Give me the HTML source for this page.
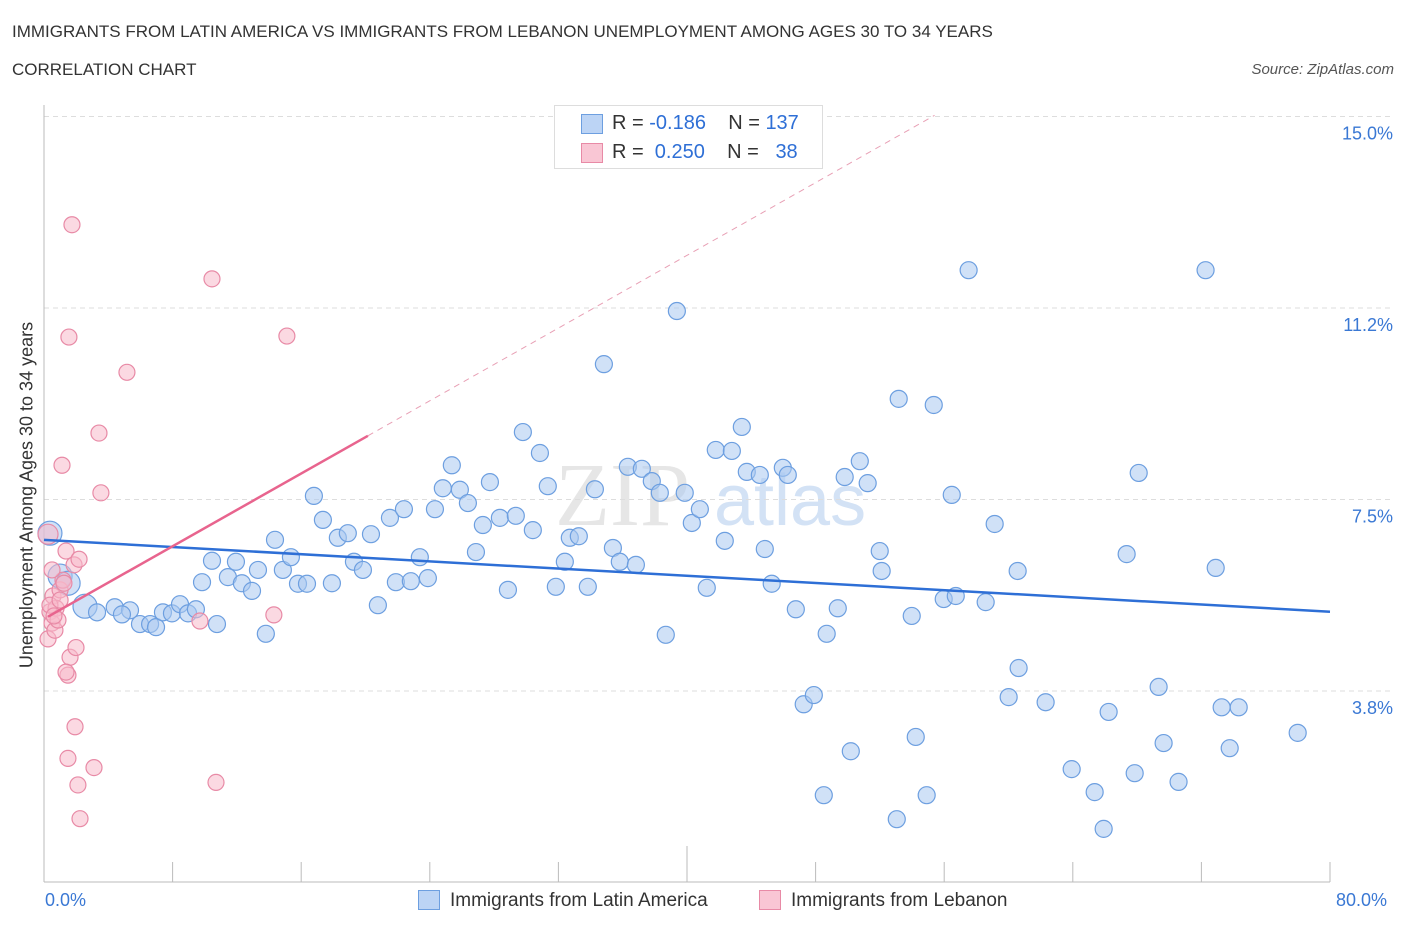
<!DOCTYPE html>
<html><head><meta charset="utf-8"><style>
body{margin:0;background:#fff;font-family:"Liberation Sans",sans-serif;}
#wrap{position:relative;width:1406px;height:930px;overflow:hidden}
.t{position:absolute;white-space:nowrap}
</style></head><body>
<div id="wrap">
<div class="t" style="left:12px;top:22px;font-size:17px;color:#333">IMMIGRANTS FROM LATIN AMERICA VS IMMIGRANTS FROM LEBANON UNEMPLOYMENT AMONG AGES 30 TO 34 YEARS</div>
<div class="t" style="left:12px;top:60px;font-size:17px;color:#333">CORRELATION CHART</div>
<div class="t" style="right:12px;top:61px;font-size:15px;color:#555;font-style:italic">Source: ZipAtlas.com</div>
<svg id="svg" width="1406" height="930" style="position:absolute;left:0;top:0"></svg>
</div>
<script>
const blueX=[0.37,1.0,1.5,2.55,3.3,4.4,5.35,4.85,5.97,6.6,6.97,7.4,7.96,8.46,8.96,9.45,9.83,10.45,10.76,11.44,11.94,12.31,12.94,13.31,13.8,14.37,14.86,15.36,15.8,16.36,16.79,17.35,17.91,18.28,18.9,19.28,19.84,20.34,20.77,21.52,21.89,22.39,22.82,23.38,23.88,24.32,24.81,25.37,25.87,26.37,26.87,27.3,27.74,28.36,28.86,29.35,29.79,30.41,30.85,31.34,31.84,32.4,32.71,33.27,33.83,34.27,34.83,35.39,35.82,36.32,36.82,37.19,37.81,38.31,38.68,39.37,39.86,40.3,40.8,41.23,41.79,42.35,42.79,43.41,43.72,44.53,44.84,45.27,45.96,46.27,46.77,47.26,47.89,48.51,48.69,49.38,50.19,49.81,50.75,51.24,51.99,52.11,53.05,53.17,53.98,54.23,54.91,55.35,55.97,56.47,56.72,57.52,58.58,59.14,60.01,60.57,60.63,62.31,63.93,65.36,65.92,66.23,67.35,67.85,68.1,69.34,69.65,70.58,72.26,72.89,73.26,73.76,74.32,77.99];
const blueY=[6.84,6.0,5.86,5.41,5.29,5.39,5.33,5.25,5.06,5.06,5.0,5.29,5.27,5.45,5.27,5.35,5.88,6.3,5.06,5.98,6.28,5.86,5.71,6.12,4.87,6.71,6.12,6.37,5.85,5.85,7.57,7.1,5.86,6.75,6.84,6.28,6.12,6.82,5.43,7.14,5.88,7.31,5.9,6.37,5.96,7.31,7.72,8.17,7.69,7.43,6.47,7.0,7.84,7.14,5.73,7.18,8.82,6.9,8.41,7.76,5.79,6.28,6.75,6.78,5.79,7.7,10.15,6.55,6.28,8.14,6.22,8.1,7.86,7.63,4.85,11.19,7.63,7.04,7.31,5.77,8.47,6.69,8.45,8.92,8.04,7.98,6.53,5.85,8.12,7.98,5.35,3.49,3.67,1.71,4.87,5.37,2.57,7.94,8.25,7.82,6.49,6.1,1.24,9.47,5.22,2.85,1.71,9.35,5.55,7.59,5.61,11.99,5.49,7.02,3.63,6.1,4.2,3.53,2.22,1.77,1.05,3.34,6.43,2.14,8.02,3.83,2.73,1.97,11.99,6.16,3.43,2.63,3.43,2.93];
const pinkX=[0.25,0.37,0.25,0.5,0.56,0.68,0.75,0.87,1.0,1.12,1.18,1.37,1.49,1.55,1.62,1.74,1.87,1.93,1.99,2.11,2.18,2.24,3.11,3.42,3.54,5.16,9.7,10.45,10.7,14.3,15.11,1.49,1.37,0.37,0.62,1.0,1.24,0.5];
const pinkY=[6.82,5.3,4.77,5.08,5.61,4.94,5.37,5.14,5.73,8.17,5.92,6.49,4.06,10.68,4.41,12.88,6.22,3.05,4.6,1.91,6.33,1.25,2.25,8.8,7.63,9.99,5.12,11.82,1.96,5.24,10.7,2.43,4.12,5.43,5.22,5.53,5.86,6.12];
const bigBlue=[0,1,2,3];
const blueFit=[6.71,-0.0176];
const pinkFit=[5.16,0.178];
const yTicks=[3.75,7.5,11.25,15];
const yTickLabels=["3.8%","7.5%","11.2%","15.0%"];
const ns="http://www.w3.org/2000/svg";
const svg=document.getElementById('svg');
const X=v=>44+v*16.075, Y=v=>882.5-v*51.07;
function mk(t,a){const e=document.createElementNS(ns,t);for(const k in a)e.setAttribute(k,a[k]);svg.appendChild(e);return e;}
// watermark
let wm=mk('text',{x:555,y:525,'font-size':90,fill:'#e6e6e6','font-family':'Liberation Serif',});wm.textContent='ZIP';

let wm2=mk('text',{x:714,y:525,'font-size':72,fill:'#d3e2f5','font-family':'Liberation Sans'});wm2.textContent='atlas';

yTicks.forEach((v,i)=>{
 const g=mk('line',{x1:44,x2:1392,y1:Y(v),y2:Y(v),stroke:'#ddd','stroke-dasharray':'5,4'});
 
 const t=mk('text',{x:1393,y:Y(v)+23,'text-anchor':'end','font-size':18,fill:'#3a78d4'});t.textContent=yTickLabels[i];
 
});
const ax=mk('line',{x1:44,x2:1330,y1:882,y2:882,stroke:'#bbb'});

const ay=mk('line',{x1:44,x2:44,y1:105,y2:882,stroke:'#bbb'});

for(let i=0;i<=10;i++){const v=i*8;const tk=mk('line',{x1:X(v),x2:X(v),y1:i==5?846:862,y2:882,stroke:'#bbb'});
 }
function dot(x,y,r,f,s,n){const c=mk('circle',{cx:X(x),cy:Y(y),r:r,fill:f,'fill-opacity':0.55,stroke:s,'stroke-width':1.2});
 }
blueX.forEach((x,i)=>dot(x,blueY[i],bigBlue.includes(i)?12:8.5,'#a9c8f0','#6d9fe0','latin-america-point'));
pinkX.forEach((x,i)=>dot(x,pinkY[i],i==0?10:8,'#f7b9cb','#e88aa6','lebanon-point'));
let l=mk('line',{x1:X(0),y1:Y(blueFit[0]),x2:X(80),y2:Y(blueFit[0]+blueFit[1]*80),stroke:'#2e6fd6','stroke-width':2.5});

l=mk('line',{x1:X(0.25),y1:Y(pinkFit[0]+pinkFit[1]*0.25),x2:X(20.15),y2:Y(pinkFit[0]+pinkFit[1]*20.15),stroke:'#e8648e','stroke-width':2.5});

l=mk('line',{x1:X(20.15),y1:Y(pinkFit[0]+pinkFit[1]*20.15),x2:X(55.4),y2:Y(pinkFit[0]+pinkFit[1]*55.4),stroke:'#e8a0b5','stroke-width':1,'stroke-dasharray':'6,5'});

</script>
<div class="t" style="left:20px;top:495px;transform:translate(-50%,-50%) rotate(-90deg);left:27px;font-size:18px;color:#333">Unemployment Among Ages 30 to 34 years</div>
<div class="t" style="left:45px;top:890px;font-size:18px;color:#3a78d4">0.0%</div>
<div class="t" style="left:1336px;top:890px;font-size:18px;color:#3a78d4">80.0%</div>
<div class="t" style="left:554px;top:105px;width:267px;height:62px;border:1px solid #ddd;background:#fff">
 <div style="position:absolute;left:26px;top:8px;width:20px;height:18px;background:#bcd4f5;border:1px solid #6d9fe0"></div>
 <div style="position:absolute;left:26px;top:37px;width:20px;height:18px;background:#f9c6d4;border:1px solid #e88aa6"></div>
 <div style="position:absolute;left:57px;top:6px;font-size:20px;color:#333">R = <span style="color:#2e6fd6">-0.186</span>&nbsp;&nbsp;&nbsp;&nbsp;N = <span style="color:#2e6fd6">137</span></div>
 <div style="position:absolute;left:57px;top:35px;font-size:20px;color:#333">R = &nbsp;<span style="color:#2e6fd6">0.250</span>&nbsp;&nbsp;&nbsp;&nbsp;N = &nbsp;&nbsp;<span style="color:#2e6fd6">38</span></div>
</div>
<div class="t" style="left:418px;top:890px;width:20px;height:18px;background:#bcd4f5;border:1px solid #6d9fe0"></div>
<div class="t" style="left:450px;top:890px;font-size:19px;color:#333">Immigrants from Latin America</div>
<div class="t" style="left:759px;top:890px;width:20px;height:18px;background:#f9c6d4;border:1px solid #e88aa6"></div>
<div class="t" style="left:791px;top:890px;font-size:19px;color:#333">Immigrants from Lebanon</div>
</body></html>
